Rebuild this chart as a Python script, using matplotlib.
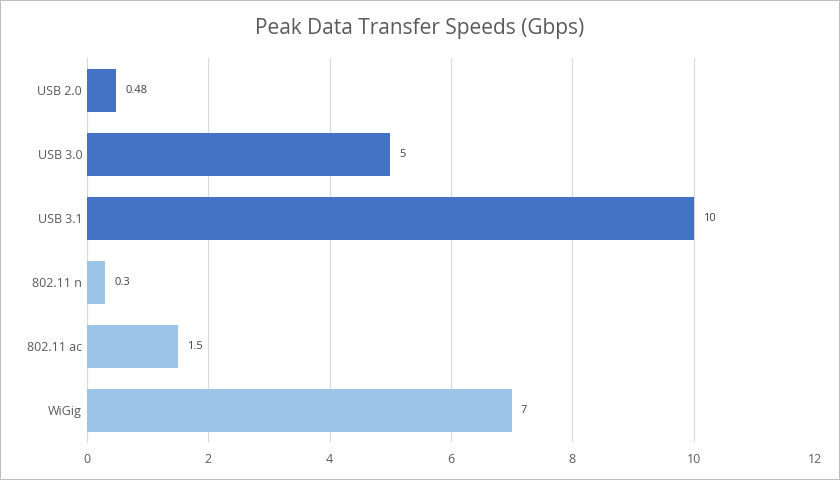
import matplotlib.pyplot as plt
from matplotlib.patches import Rectangle

plt.rcParams['font.family'] = ['Open Sans', 'DejaVu Sans']

labels = ["USB 2.0", "USB 3.0", "USB 3.1", "802.11 n", "802.11 ac", "WiGig"]
speeds = [0.48, 5, 10, 0.3, 1.5, 7]
value_text = ["0.48", "5", "10", "0.3", "1.5", "7"]
colors = ["#4472C4", "#4472C4", "#4472C4", "#9DC3E6", "#9DC3E6", "#9DC3E6"]

fig = plt.figure(figsize=(8.4, 4.8), dpi=100)
ax = fig.add_axes([0.1036, 0.079, 0.8667, 0.80])

y = list(range(len(labels)))
ax.barh(y, speeds, height=0.67, color=colors, zorder=3)
for yi, v, t in zip(y, speeds, value_text):
    ax.text(v + 0.15, yi, t, va="center", ha="left", fontsize=8, color="#404040")

ax.set_ylim(5.5, -0.5)
ax.set_xlim(0, 12)
ax.set_xticks(range(0, 13, 2))
ax.set_yticks(y)
ax.set_yticklabels(labels)
ax.tick_params(axis="both", length=0, labelsize=9, colors="#595959")
ax.tick_params(axis="x", pad=8)
ax.grid(axis="x", color="#D9D9D9", linewidth=0.8, zorder=0)
for s in ["top", "right", "bottom"]:
    ax.spines[s].set_visible(False)
ax.spines["left"].set_color("#D9D9D9")

fig.text(0.5, 0.94, "Peak Data Transfer Speeds (Gbps)", ha="center", va="center",
         fontsize=15, color="#595959")
fig.patches.append(Rectangle((0, 0), 1, 1, transform=fig.transFigure, fill=False,
                             edgecolor="#BFBFBF", linewidth=1.5))

fig.savefig("out.png", dpi=100)
